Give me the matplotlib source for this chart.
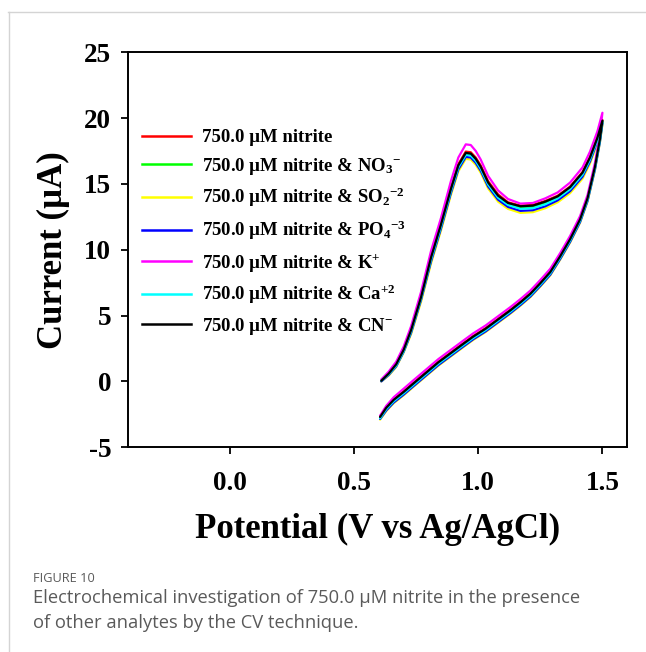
import matplotlib
matplotlib.use("Agg")
import matplotlib.pyplot as plt
from matplotlib.lines import Line2D

# ---------------- data ----------------
E_fwd = [0.61, 0.64, 0.67, 0.70, 0.73, 0.77, 0.81, 0.85, 0.89, 0.92, 0.95, 0.97, 0.99,
         1.01, 1.04, 1.08, 1.12, 1.17, 1.22, 1.27, 1.32, 1.37, 1.42, 1.45, 1.48, 1.50]
E_rev = [1.50, 1.49, 1.47, 1.44, 1.41, 1.37, 1.33, 1.29, 1.25, 1.21, 1.17, 1.13, 1.08,
         1.03, 0.98, 0.94, 0.89, 0.84, 0.79, 0.74, 0.70, 0.66, 0.63, 0.605]

I_fwd_nitrite = [0.05, 0.6, 1.3, 2.4, 3.95, 6.45, 9.45, 11.95, 14.65, 16.5, 17.45, 17.4, 17.0,
                 16.4, 15.2, 14.2, 13.6, 13.35, 13.4, 13.7, 14.1, 14.8, 15.9, 17.05, 18.55, 19.85]
I_fwd_NO3 = [0.05, 0.6, 1.25, 2.35, 3.85, 6.35, 9.35, 11.85, 14.55, 16.35, 17.25, 17.2, 16.8,
             16.2, 15.0, 14.0, 13.45, 13.2, 13.25, 13.55, 13.95, 14.65, 15.75, 16.9, 18.4, 19.75]
I_fwd_SO2 = [0.0, 0.45, 1.1, 2.2, 3.6, 6.05, 8.95, 11.45, 14.15, 15.95, 16.9, 16.85, 16.45,
             15.85, 14.65, 13.65, 13.1, 12.8, 12.85, 13.15, 13.6, 14.3, 15.4, 16.55, 18.1, 19.5]
I_fwd_PO4 = [0.0, 0.5, 1.15, 2.25, 3.7, 6.2, 9.1, 11.6, 14.3, 16.1, 17.05, 17.0, 16.6,
             16.0, 14.8, 13.8, 13.25, 12.95, 13.0, 13.3, 13.75, 14.45, 15.55, 16.7, 18.25, 19.6]
I_fwd_K = [0.15, 0.75, 1.5, 2.65, 4.2, 6.8, 9.9, 12.4, 15.2, 17.0, 18.0, 17.95, 17.5,
           16.85, 15.6, 14.5, 13.85, 13.5, 13.55, 13.9, 14.35, 15.1, 16.25, 17.45, 19.0, 20.4]
I_fwd_Ca = [0.05, 0.55, 1.2, 2.3, 3.8, 6.3, 9.25, 11.75, 14.45, 16.25, 17.2, 17.15, 16.75,
            16.15, 14.95, 13.95, 13.4, 13.1, 13.15, 13.45, 13.9, 14.6, 15.7, 16.85, 18.35, 19.7]
I_fwd_CN = [0.05, 0.6, 1.3, 2.4, 3.9, 6.4, 9.4, 11.9, 14.6, 16.4, 17.35, 17.3, 16.9,
            16.3, 15.1, 14.1, 13.55, 13.3, 13.35, 13.65, 14.05, 14.75, 15.85, 17.0, 18.5, 19.8]

I_rev_nitrite = [19.85, 18.45, 16.35, 13.95, 12.35, 10.85, 9.55, 8.35, 7.5, 6.7, 6.05, 5.45,
                 4.75, 4.05, 3.45, 2.9, 2.2, 1.5, 0.7, -0.1, -0.75, -1.35, -1.95, -2.7]
I_rev_NO3 = [19.75, 18.35, 16.25, 13.85, 12.25, 10.75, 9.45, 8.25, 7.4, 6.6, 5.95, 5.35,
             4.65, 3.95, 3.35, 2.8, 2.1, 1.4, 0.6, -0.2, -0.85, -1.45, -2.05, -2.75]
I_rev_SO2 = [19.5, 18.15, 16.05, 13.65, 12.05, 10.55, 9.25, 8.05, 7.2, 6.4, 5.75, 5.15,
             4.45, 3.75, 3.15, 2.6, 1.9, 1.2, 0.4, -0.4, -1.05, -1.65, -2.25, -2.9]
I_rev_PO4 = [19.6, 18.2, 16.1, 13.7, 12.1, 10.6, 9.3, 8.1, 7.25, 6.45, 5.8, 5.2,
             4.5, 3.8, 3.2, 2.65, 1.95, 1.25, 0.45, -0.35, -1.0, -1.6, -2.2, -2.85]
I_rev_K = [20.4, 18.75, 16.6, 14.15, 12.55, 11.05, 9.75, 8.55, 7.7, 6.9, 6.25, 5.65,
           4.95, 4.25, 3.65, 3.1, 2.4, 1.7, 0.9, 0.1, -0.55, -1.2, -1.85, -2.6]
I_rev_Ca = [19.7, 18.3, 16.2, 13.8, 12.2, 10.7, 9.4, 8.2, 7.35, 6.55, 5.9, 5.3,
            4.6, 3.9, 3.3, 2.75, 2.05, 1.35, 0.55, -0.25, -0.9, -1.5, -2.1, -2.8]
I_rev_CN = [19.8, 18.4, 16.3, 13.9, 12.3, 10.8, 9.5, 8.3, 7.45, 6.65, 6.0, 5.4,
            4.7, 4.0, 3.4, 2.85, 2.15, 1.45, 0.65, -0.15, -0.8, -1.4, -2.0, -2.7]

labels = [
    r"750.0 µM nitrite",
    r"750.0 µM nitrite & NO$_{3}$$^{-}$",
    r"750.0 µM nitrite & SO$_{2}$$^{-2}$",
    r"750.0 µM nitrite & PO$_{4}$$^{-3}$",
    r"750.0 µM nitrite & K$^{+}$",
    r"750.0 µM nitrite & Ca$^{+2}$",
    r"750.0 µM nitrite & CN$^{-}$",
]
colors = ["#ff0000", "#00ff00", "#ffff00", "#0000ff", "#ff00ff", "#00ffff", "#000000"]
fwd_series = [I_fwd_nitrite, I_fwd_NO3, I_fwd_SO2, I_fwd_PO4, I_fwd_K, I_fwd_Ca, I_fwd_CN]
rev_series = [I_rev_nitrite, I_rev_NO3, I_rev_SO2, I_rev_PO4, I_rev_K, I_rev_Ca, I_rev_CN]

x_ticks = [0.0, 0.5, 1.0, 1.5]
y_ticks = [-5, 0, 5, 10, 15, 20, 25]

# ---------------- style ----------------
serif = "Liberation Serif"
plt.rcParams["font.family"] = [serif, "DejaVu Serif"]
plt.rcParams["font.weight"] = "bold"
plt.rcParams["mathtext.fontset"] = "custom"
plt.rcParams["mathtext.rm"] = serif + ":bold"
plt.rcParams["mathtext.it"] = serif + ":bold"
plt.rcParams["mathtext.bf"] = serif + ":bold"
plt.rcParams["mathtext.default"] = "rm"

fig = plt.figure(figsize=(6.46, 6.52), dpi=100)
ax = fig.add_axes([0.198, 0.314, 0.773, 0.606])

for yf, yr, c in zip(fwd_series, rev_series, colors):
    ax.plot(E_fwd + E_rev, yf + yr, color=c, lw=1.6, solid_capstyle="round",
            solid_joinstyle="round")

ax.set_xlim(-0.41, 1.60)
ax.set_ylim(-5, 25)
ax.set_xticks(x_ticks)
ax.set_xticklabels([f"{v:.1f}" for v in x_ticks])
ax.set_yticks(y_ticks)
ax.set_yticklabels([str(v) for v in y_ticks])
ax.tick_params(axis="both", direction="out", length=5, width=1.3, labelsize=19.5)
ax.tick_params(axis="x", pad=12)
ax.tick_params(axis="y", pad=7)
ax.tick_params(top=False, right=False)
for s in ax.spines.values():
    s.set_linewidth(1.4)

ax.set_xlabel("Potential (V vs Ag/AgCl)", fontsize=25, fontweight="bold", labelpad=12)
ax.set_ylabel("Current (µA)", fontsize=25, fontweight="bold", labelpad=10)

handles = [Line2D([0], [0], color=c, lw=1.8) for c in colors]
ax.legend(handles, labels, loc="upper left", bbox_to_anchor=(0.028, 0.805),
          frameon=False, handlelength=2.6, handletextpad=0.6,
          labelspacing=0.5, borderaxespad=0, borderpad=0,
          prop={"family": serif, "weight": "bold", "size": 13.5})

# page frame lines
fig.add_artist(Line2D([8 / 646, 1.0], [1 - 12 / 652, 1 - 12 / 652], color="#d4d4d4", lw=1.0))
fig.add_artist(Line2D([9 / 646, 9 / 646], [0, 1 - 12 / 652], color="#d4d4d4", lw=1.0))

# caption
cap = ["Open Sans", "DejaVu Sans"]
fig.text(33 / 646, 1 - 578 / 652, "FIGURE 10", family=cap, fontsize=9.2, weight="normal",
         color="#5a5a5a", va="center", ha="left")
fig.text(33 / 646, 1 - 598 / 652,
         "Electrochemical investigation of 750.0 µM nitrite in the presence",
         family=cap, fontsize=13.2, weight="normal", color="#5a5a5a", va="center", ha="left")
fig.text(33 / 646, 1 - 623 / 652, "of other analytes by the CV technique.",
         family=cap, fontsize=13.2, weight="normal", color="#5a5a5a", va="center", ha="left")

fig.savefig("out.png", dpi=100)
